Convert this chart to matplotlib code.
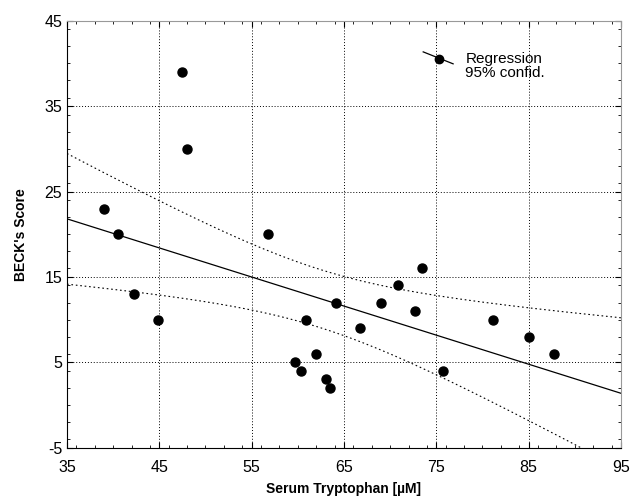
import numpy as np
import matplotlib
matplotlib.use("Agg")
import matplotlib.pyplot as plt
from matplotlib.ticker import MultipleLocator

plt.rcParams["font.family"] = ["Liberation Sans", "DejaVu Sans"]
plt.rcParams["axes.unicode_minus"] = False

# values
tryptophan = [39.0, 40.5, 42.3, 44.9, 47.5, 48.0, 56.8, 59.7, 60.3, 60.9, 62.0, 63.1,
              63.5, 64.1, 66.7, 69.0, 70.8, 72.7, 73.4, 75.7, 81.1, 85.0, 87.7]
beck_score = [23, 20, 13, 10, 39, 30, 20, 5, 4, 10, 6, 3,
              2, 12, 9, 12, 14, 11, 16, 4, 10, 8, 6]
x_ticks = [35, 45, 55, 65, 75, 85, 95]
y_ticks = [-5, 5, 15, 25, 35, 45]
t_crit = 2.080  # t(0.975, df=21)

x = np.array(tryptophan)
y = np.array(beck_score)
n = len(x)
slope, intercept = np.polyfit(x, y, 1)
resid = y - (slope * x + intercept)
s = np.sqrt(np.sum(resid ** 2) / (n - 2))
sxx = np.sum((x - x.mean()) ** 2)

xs = np.linspace(35, 95, 200)
fit = slope * xs + intercept
half = t_crit * s * np.sqrt(1 / n + (xs - x.mean()) ** 2 / sxx)

fig = plt.figure(figsize=(6.3, 4.99), dpi=100)
ax = fig.add_axes([0.1063, 0.1028, 0.8794, 0.8557])

ax.plot(xs, fit, color="black", lw=0.9)
ax.plot(xs, fit + half, color="black", lw=0.8, linestyle=(0, (1.5, 2.5)))
ax.plot(xs, fit - half, color="black", lw=0.8, linestyle=(0, (1.5, 2.5)))
ax.plot(x, y, "o", color="black", ms=6.5, zorder=5)

ax.set_xlim(35, 95)
ax.set_ylim(-5, 45)
ax.set_xticks(x_ticks)
ax.set_yticks(y_ticks)
ax.xaxis.set_minor_locator(MultipleLocator(2))
ax.yaxis.set_minor_locator(MultipleLocator(2))
ax.tick_params(which="both", direction="in", top=True, right=True, labelsize=11.5)
ax.tick_params(which="major", length=4, width=0.8)
ax.tick_params(which="minor", length=2, width=0.6)
ax.tick_params(axis="x", pad=9)
ax.grid(True, which="major", color="black", linestyle=(0, (1, 2)), lw=0.7)
for side in ["top", "right"]:
    ax.spines[side].set_color("#999999")

ax.set_xlabel("Serum Tryptophan [µM]", fontsize=10, fontweight="bold", labelpad=5)
ax.set_ylabel("BECK's Score", fontsize=10, fontweight="bold", labelpad=12)

# legend drawn by hand: slanted line with a dot
ax.plot([0.643, 0.697], [0.927, 0.899], color="black", lw=0.9, transform=ax.transAxes)
ax.plot([0.671], [0.910], "o", color="black", ms=6, transform=ax.transAxes)
ax.text(0.719, 0.893, "Regression\n95% confid.", transform=ax.transAxes,
        fontsize=11, va="center", ha="left", linespacing=1.0)

fig.savefig("out.png", dpi=100)
